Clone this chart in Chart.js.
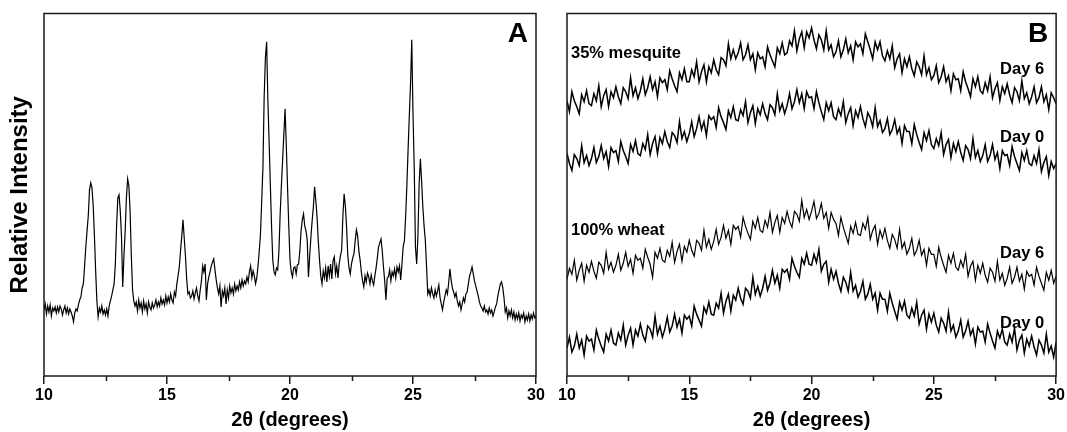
<!DOCTYPE html>
<html>
<head>
<meta charset="utf-8">
<script src="https://cdn.jsdelivr.net/npm/chart.js@4.4.0/dist/chart.umd.min.js"></script>
<style>
  html, body { margin: 0; padding: 0; background: #fff; }
  #wrap { position: relative; width: 1067px; height: 432px; overflow: hidden; }
  #chartA { position: absolute; left: 0; top: 0; }
  #chartB { position: absolute; left: 552px; top: 0; }
</style>
</head>
<body>
<div id="wrap">
  <canvas id="chartA" width="552" height="432"></canvas>
  <canvas id="chartB" width="515" height="432"></canvas>
</div>
<script>
// 2-theta axis
const thetaMin = 10;
const thetaMax = 30;
const thetaTicks = [10, 15, 20, 25, 30];
const minorTicks = [12.5, 17.5, 22.5, 27.5];

// panel A : sampled every 0.05 deg from 10.00
const startA = 10;
const stepA = 0.05;
const intensityA = [
  66, 72, 62, 70, 64, 71, 60, 68, 65, 69, 63, 69, 64, 70, 67, 61, 66, 70, 63, 68,
  62, 67, 64, 60, 54, 63, 67, 65, 71, 76, 79, 88, 92, 110, 129, 145, 160, 186, 193, 188,
  170, 140, 105, 75, 59, 68, 64, 70, 62, 66, 61, 67, 60, 70, 75, 80, 86, 92, 112, 150,
  178, 181, 165, 140, 89, 120, 145, 178, 197, 190, 165, 120, 86, 75, 70, 74, 65, 76, 68, 73,
  64, 75, 67, 72, 63, 74, 69, 66, 73, 68, 71, 76, 69, 74, 70, 78, 72, 76, 71, 80,
  73, 79, 74, 82, 76, 73, 84, 80, 92, 100, 109, 125, 140, 156, 138, 120, 97, 82, 84, 78,
  80, 85, 77, 83, 88, 80, 75, 86, 95, 110, 104, 112, 76, 92, 99, 104, 110, 114, 117, 106,
  96, 88, 82, 90, 69, 85, 80, 88, 72, 86, 78, 90, 83, 88, 82, 92, 85, 90, 86, 94,
  88, 96, 90, 95, 92, 99, 94, 104, 110, 98, 105, 100, 92, 98, 110, 125, 142, 175, 209, 279,
  318, 334, 276, 235, 192, 150, 116, 104, 101, 108, 106, 125, 162, 190, 216, 242, 267, 230, 189, 150,
  116, 104, 99, 108, 109, 102, 111, 112, 125, 145, 156, 162, 150, 145, 136, 99, 120, 139, 155, 169,
  189, 175, 159, 135, 116, 100, 92, 105, 98, 108, 94, 110, 100, 112, 97, 115, 119, 102, 110, 98,
  112, 120, 126, 160, 182, 170, 149, 120, 108, 102, 112, 118, 122, 135, 146, 140, 125, 116, 104, 95,
  89, 100, 94, 103, 99, 92, 101, 95, 91, 100, 108, 118, 129, 133, 137, 125, 109, 95, 76, 98,
  99, 106, 95, 104, 100, 107, 98, 109, 104, 110, 96, 112, 129, 135, 159, 190, 226, 260, 292, 336,
  262, 209, 129, 112, 140, 192, 217, 195, 169, 150, 136, 110, 82, 86, 80, 88, 82, 78, 86, 80,
  85, 91, 78, 72, 66, 74, 80, 86, 82, 93, 107, 96, 88, 84, 79, 83, 75, 70, 74, 66,
  72, 78, 74, 82, 84, 92, 100, 104, 109, 102, 95, 90, 85, 80, 74, 70, 68, 65, 70, 64,
  66, 62, 68, 63, 66, 60, 64, 69, 72, 80, 86, 92, 94, 88, 78, 64, 68, 58, 65, 60,
  66, 58, 64, 56, 62, 57, 63, 55, 61, 58, 63, 54, 60, 56, 62, 55, 61, 57, 63, 58,
  60
];

// panel B : sampled every 0.1 deg from 10.0
const startB = 10;
const stepB = 0.1;
const mesquiteDay6 = [
  275, 264, 284, 275, 269, 262, 281, 274, 285, 272,
  270, 282, 275, 290, 269, 280, 286, 269, 284, 278,
  289, 279, 272, 288, 284, 277, 298, 280, 288, 277,
  285, 297, 281, 288, 299, 286, 294, 279, 298, 293,
  296, 286, 305, 297, 290, 284, 303, 296, 307, 294,
  294, 306, 299, 314, 294, 304, 311, 294, 309, 303,
  316, 306, 301, 318, 316, 310, 332, 317, 326, 317,
  323, 333, 316, 321, 331, 316, 322, 306, 323, 317,
  319, 309, 329, 321, 315, 309, 328, 322, 333, 321,
  323, 335, 330, 345, 325, 337, 344, 328, 344, 338,
  348, 336, 327, 341, 336, 326, 345, 326, 331, 319,
  324, 335, 319, 326, 337, 323, 330, 316, 334, 329,
  332, 322, 342, 334, 326, 317, 334, 326, 334, 320,
  315, 325, 317, 330, 308, 317, 322, 303, 317, 309,
  319, 307, 300, 314, 309, 301, 320, 301, 308, 296,
  300, 310, 293, 299, 309, 294, 300, 285, 302, 296,
  297, 285, 304, 294, 287, 279, 297, 289, 299, 285,
  282, 293, 285, 299, 278, 287, 293, 275, 289, 282,
  292, 281, 273, 288, 284, 275, 295, 277, 283, 272,
  279, 289, 273, 278, 289, 274, 281, 266, 283, 278,
  272
];
const mesquiteDay0 = [
  222, 212, 205, 221, 217, 210, 230, 213, 220, 210,
  217, 228, 213, 219, 230, 217, 224, 209, 228, 223,
  225, 214, 234, 225, 219, 212, 231, 224, 235, 222,
  220, 232, 226, 241, 221, 232, 239, 222, 238, 232,
  244, 234, 228, 243, 240, 233, 254, 237, 244, 234,
  242, 254, 239, 247, 259, 246, 254, 240, 260, 256,
  259, 248, 268, 259, 253, 246, 265, 258, 269, 256,
  255, 266, 260, 274, 253, 263, 270, 252, 267, 261,
  272, 262, 256, 271, 268, 261, 282, 265, 272, 262,
  270, 282, 267, 274, 286, 273, 282, 267, 284, 278,
  279, 267, 284, 273, 264, 256, 273, 265, 273, 259,
  256, 267, 260, 274, 253, 262, 268, 250, 265, 258,
  269, 257, 249, 263, 258, 249, 268, 249, 255, 243,
  247, 257, 241, 246, 256, 242, 248, 232, 250, 244,
  244, 232, 251, 241, 233, 226, 243, 235, 245, 231,
  227, 237, 230, 243, 221, 231, 236, 218, 232, 224,
  234, 223, 215, 230, 226, 217, 237, 218, 225, 214,
  220, 231, 214, 220, 231, 216, 223, 207, 225, 220,
  221, 210, 229, 219, 212, 205, 223, 215, 225, 212,
  210, 220, 212, 226, 204, 213, 219, 200, 214, 207,
  212
];
const wheatDay6 = [
  96, 107, 101, 115, 95, 105, 112, 94, 110, 103,
  114, 104, 97, 113, 110, 102, 123, 106, 113, 103,
  110, 121, 105, 112, 123, 109, 116, 102, 120, 115,
  117, 107, 126, 118, 111, 98, 123, 117, 127, 115,
  113, 125, 119, 133, 113, 124, 131, 114, 129, 123,
  135, 125, 119, 135, 132, 125, 145, 128, 136, 126,
  134, 146, 131, 138, 150, 137, 145, 131, 150, 146,
  149, 138, 158, 149, 142, 136, 154, 147, 158, 145,
  143, 155, 148, 163, 143, 153, 160, 143, 158, 152,
  164, 154, 148, 164, 161, 154, 175, 158, 166, 156,
  164, 174, 157, 162, 172, 157, 163, 147, 163, 156,
  152, 140, 158, 148, 140, 132, 149, 142, 153, 141,
  140, 152, 146, 158, 136, 145, 150, 131, 145, 137,
  147, 135, 127, 141, 136, 127, 146, 127, 133, 121,
  127, 137, 120, 125, 135, 120, 126, 110, 127, 121,
  121, 109, 128, 118, 110, 103, 120, 112, 122, 108,
  105, 115, 108, 121, 99, 109, 114, 95, 110, 102,
  112, 100, 93, 107, 103, 94, 114, 95, 102, 90,
  97, 108, 92, 98, 108, 94, 101, 86, 104, 99,
  101, 90, 108, 99, 92, 85, 103, 95, 105, 92,
  99
];
const wheatDay0 = [
  27, 38, 23, 29, 41, 27, 35, 20, 39, 34,
  36, 25, 45, 36, 29, 23, 41, 34, 45, 32,
  30, 42, 35, 50, 30, 40, 47, 30, 45, 39,
  51, 40, 34, 49, 46, 38, 59, 41, 49, 38,
  46, 58, 43, 49, 61, 48, 56, 42, 60, 56,
  59, 49, 69, 61, 55, 49, 68, 62, 73, 61,
  60, 72, 67, 82, 62, 74, 81, 64, 80, 75,
  87, 77, 71, 87, 84, 77, 98, 81, 89, 79,
  87, 99, 85, 92, 105, 92, 100, 87, 106, 103,
  106, 96, 117, 109, 103, 98, 117, 111, 122, 111,
  110, 121, 113, 126, 104, 111, 114, 93, 106, 96,
  104, 92, 84, 98, 93, 84, 103, 84, 90, 78,
  84, 94, 76, 81, 91, 76, 82, 65, 82, 76,
  76, 64, 82, 72, 64, 56, 73, 65, 74, 60,
  57, 67, 59, 73, 51, 60, 65, 46, 61, 53,
  62, 50, 43, 57, 52, 44, 63, 44, 50, 38,
  44, 55, 38, 44, 54, 40, 46, 31, 48, 43,
  44, 33, 51, 42, 34, 27, 44, 37, 46, 33,
  30, 41, 33, 47, 25, 35, 40, 22, 36, 29,
  39, 28, 20, 35, 30, 22, 41, 23, 29, 18,
  33
];

const FONT = '"Liberation Sans", Arial, Helvetica, sans-serif';
const INK = "#1a1a1a";

const toPoints = (values, start, step) =>
  values.map((v, i) => ({ x: +(start + i * step).toFixed(2), y: v }));

// frame, minor ticks and text labels drawn on top
const framePlugin = {
  id: "frame",
  afterDraw: (chart, _args, opts) => {
    const { ctx, chartArea } = chart;
    const { left, top, right, bottom } = chartArea;
    const x = chart.scales.x;
    ctx.save();
    ctx.strokeStyle = INK;
    ctx.lineWidth = 1.5;
    ctx.strokeRect(left, top, right - left, bottom - top);
    ctx.beginPath();
    minorTicks.forEach((t) => {
      const px = Math.round(x.getPixelForValue(t)) + 0.5;
      ctx.moveTo(px, bottom);
      ctx.lineTo(px, bottom + 5);
    });
    ctx.stroke();

    ctx.fillStyle = "#000";
    ctx.textBaseline = "middle";
    ctx.font = "bold 28px " + FONT;
    ctx.textAlign = "right";
    ctx.fillText(opts.letter, right - 8, 34);

    ctx.font = "bold 16.5px " + FONT;
    (opts.notes || []).forEach((n) => {
      ctx.textAlign = n.align;
      const nx = n.align === "left" ? left + 4 : right - 12;
      ctx.fillText(n.text, nx, n.y);
    });
    ctx.restore();
  },
};

const xScale = () => ({
  type: "linear",
  min: thetaMin,
  max: thetaMax,
  afterBuildTicks: (scale) => {
    scale.ticks = thetaTicks.map((v) => ({ value: v }));
  },
  ticks: {
    color: "#000",
    padding: 2,
    maxRotation: 0,
    autoSkip: false,
    font: { family: FONT, size: 16, weight: "bold" },
  },
  grid: {
    display: true,
    drawOnChartArea: false,
    drawTicks: true,
    tickLength: 8,
    color: INK,
    lineWidth: 1.5,
  },
  border: { display: false },
  title: {
    display: true,
    text: "2θ (degrees)",
    color: "#000",
    font: { family: FONT, size: 20, weight: "bold" },
    padding: { top: 0, bottom: 0 },
  },
  afterFit: (scale) => {
    scale.height = 56;
  },
});

const lineSet = (label, data, width) => ({
  label: label,
  data: data,
  borderColor: "#000",
  borderWidth: width,
  pointRadius: 0,
  tension: 0,
  fill: false,
});

const chartA = new Chart(document.getElementById("chartA"), {
  type: "line",
  data: {
    datasets: [lineSet("A", toPoints(intensityA, startA, stepA), 1.2)],
  },
  options: {
    responsive: false,
    animation: false,
    events: [],
    layout: { padding: { top: 13.5, right: 16, left: 0, bottom: 0 } },
    plugins: {
      legend: { display: false },
      tooltip: { enabled: false },
      frame: { letter: "A" },
    },
    scales: {
      x: xScale(),
      y: {
        min: 0,
        max: 362.3,
        ticks: { display: false },
        grid: { display: false },
        border: { display: false },
        title: {
          display: true,
          text: "Relative Intensity",
          color: "#000",
          font: { family: FONT, size: 24, weight: "bold" },
          padding: { top: 6, bottom: 0 },
        },
        afterFit: (scale) => {
          scale.width = 44;
        },
      },
    },
  },
  plugins: [framePlugin],
});

const chartB = new Chart(document.getElementById("chartB"), {
  type: "line",
  data: {
    datasets: [
      lineSet("35% mesquite Day 6", toPoints(mesquiteDay6, startB, stepB), 1.5),
      lineSet("35% mesquite Day 0", toPoints(mesquiteDay0, startB, stepB), 1.5),
      lineSet("100% wheat Day 6", toPoints(wheatDay6, startB, stepB), 1.2),
      lineSet("100% wheat Day 0", toPoints(wheatDay0, startB, stepB), 1.5),
    ],
  },
  options: {
    responsive: false,
    animation: false,
    events: [],
    layout: { padding: { top: 13.5, right: 9, left: 0, bottom: 0 } },
    plugins: {
      legend: { display: false },
      tooltip: { enabled: false },
      frame: {
        letter: "B",
        notes: [
          { text: "35% mesquite", align: "left", y: 53 },
          { text: "Day 6", align: "right", y: 69 },
          { text: "Day 0", align: "right", y: 137 },
          { text: "100% wheat", align: "left", y: 230 },
          { text: "Day 6", align: "right", y: 253 },
          { text: "Day 0", align: "right", y: 323 },
        ],
      },
    },
    scales: {
      x: xScale(),
      y: {
        min: -1,
        max: 362.4,
        ticks: { display: false },
        grid: { display: false },
        border: { display: false },
        afterFit: (scale) => {
          scale.width = 15;
        },
      },
    },
  },
  plugins: [framePlugin],
});
</script>
</body>
</html>
